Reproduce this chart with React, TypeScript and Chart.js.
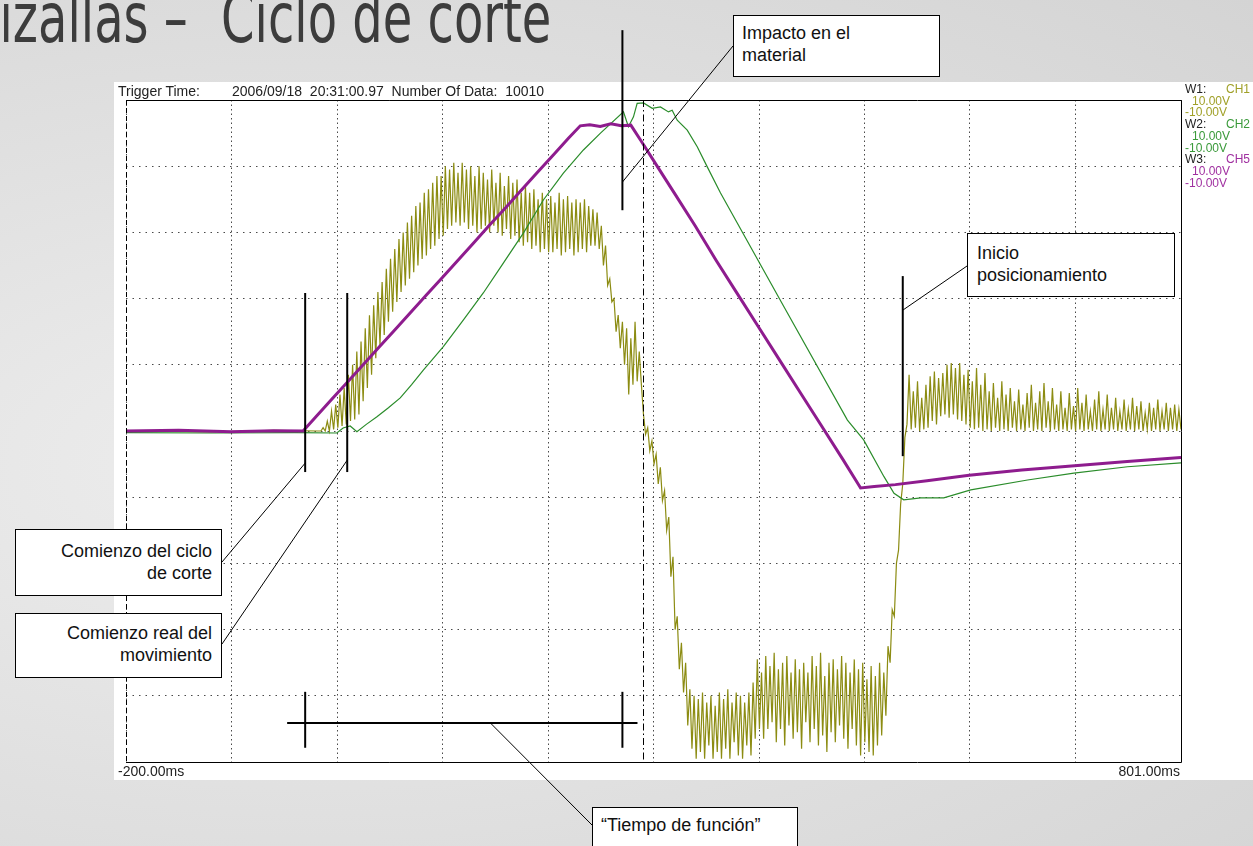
import React, { useEffect, useRef } from "react";
import { Chart, registerables } from "chart.js";

Chart.register(...registerables);

// ---------- axes ----------
const timeMin = -200;
const timeMax = 801;
const voltMin = -10;
const voltMax = 10;
const gridTimes = [-200, -99.9, 0.2, 100.3, 200.4, 300.5, 400.6, 500.7, 600.8, 700.9, 801];
const gridVolts = [-10, -8, -6, -4, -2, 0, 2, 4, 6, 8, 10];
const timeStartLabel = "-200.00ms";
const timeEndLabel = "801.00ms";

// ---------- CH5 (purple) ----------
const ch5Times = [-200, -150, -100, -60, -32, -20, -5, 10, 25, 40, 55, 70, 85, 100, 115, 130, 145, 160, 175, 190, 205, 220, 231, 240, 250, 260, 270, 279, 290, 305, 320, 340, 360, 380, 400, 420, 440, 460, 480, 497, 510, 530, 560, 600, 650, 700, 750, 801];
const ch5Volts = [0.0, 0.02, -0.02, 0.01, 0.0, 0.42, 0.95, 1.47, 2.0, 2.53, 3.05, 3.58, 4.11, 4.63, 5.16, 5.69, 6.22, 6.74, 7.27, 7.8, 8.32, 8.85, 9.22, 9.25, 9.2, 9.28, 9.22, 9.24, 8.7, 7.95, 7.2, 6.2, 5.15, 4.15, 3.15, 2.15, 1.15, 0.15, -0.85, -1.72, -1.68, -1.62, -1.5, -1.34, -1.18, -1.05, -0.92, -0.8];

// ---------- CH2 (green) ----------
const ch2Times = [-200, -120, -40, 0, 6, 12.7, 19.1, 28, 38.1, 49, 60.2, 71, 82.1, 101.1, 120, 139, 158, 177, 196, 215, 234, 250.2, 272, 276.7, 281.5, 285, 291, 299.3, 307.1, 314.7, 318.2, 323, 332.5, 342, 351.5, 364.1, 424, 484.5, 499.9, 519.2, 528.7, 537.9, 554.1, 575.9, 601.5, 655.4, 699.3, 750.3, 801];
const ch2Volts = [-0.05, -0.06, -0.05, -0.06, 0.09, 0.15, -0.02, 0.2, 0.43, 0.7, 1.0, 1.4, 1.84, 2.55, 3.35, 4.17, 5.07, 5.98, 6.98, 7.79, 8.49, 9.0, 9.64, 9.19, 9.49, 9.9, 9.91, 9.75, 9.79, 9.64, 9.69, 9.39, 9.09, 8.59, 7.98, 7.19, 3.77, 0.33, -0.27, -1.38, -1.88, -2.08, -2.02, -2.02, -1.78, -1.48, -1.27, -1.08, -0.96];

// ---------- CH1 (olive) ----------
const ch1FlatTimes = [-200, -120, -60, -18];
const ch1FlatVolts = [0.0, -0.03, 0.02, 0.0];
const ch1SampleStep = 2; // ms between samples
const ch1RiseStart = -15;
const ch1RiseVolts = [
  0.0, 0.1, 0.0, 0.3, 0.0, 0.6, 0.05, 0.8, 0.1, 1.1,
  0.15, 1.3, 0.2, 1.7, 0.3, 2.0, 0.35, 2.4, 0.5, 2.7,
  0.9, 3.1, 1.3, 3.5, 1.7, 3.8, 2.2, 4.2, 2.6, 4.5,
  2.9, 4.9, 3.3, 5.2, 3.6, 5.5, 3.9, 5.8, 4.2, 6.0,
  4.4, 6.3, 4.6, 6.5, 4.8, 6.8, 5.0, 6.9, 5.2, 7.2,
  5.3, 7.3, 5.5, 7.5, 5.6, 7.7, 5.8, 7.7, 5.9, 8.0,
  6.1, 7.9, 6.2, 8.1, 6.3, 7.8, 6.2, 8.1, 6.3, 7.9,
  6.1, 8.0, 6.2, 7.7, 6.0, 8.0, 6.1, 7.8, 6.2, 7.6,
  6.0, 7.9, 6.2, 7.5, 6.0, 7.8, 5.9, 7.4, 6.1, 7.7,
  5.8, 7.5, 5.9, 7.6, 5.7, 7.2, 5.6, 7.4, 5.7, 7.2,
  5.5, 7.3, 5.6, 7.0, 5.4, 7.2, 5.5, 7.0, 5.4, 7.1,
  5.4, 6.9, 5.5, 7.2, 5.3, 7.0, 5.4, 7.1, 5.5, 6.9,
  5.3, 7.0, 5.4, 6.9, 5.5, 7.0, 5.4, 6.8, 5.6, 6.7,
  5.6, 6.6, 5.5, 6.2, 5.0, 5.6, 4.4, 4.6, 3.9, 4.0,
  3.0, 3.5, 2.5, 3.3, 2.0, 3.1, 1.1, 2.8, 1.4, 3.3,
  1.5, 2.4, 1.4, 0.5
];
const ch1TroughStart = 293;
const ch1TroughVolts = [
  -0.1, 0.1, -0.6, -0.3, -1.0, -0.7, -1.6, -1.1, -2.1, -1.8,
  -3.0, -2.6, -4.4, -3.8, -6.0, -5.6, -7.2, -6.4, -7.9, -7.0,
  -8.9, -7.8, -9.6, -8.0, -9.9, -8.1, -9.7, -7.9, -9.9, -8.2,
  -9.5, -8.0, -9.9, -8.3, -9.7, -7.9, -9.9, -8.1, -9.6, -7.8,
  -9.9, -8.2, -9.4, -7.9, -9.8, -8.0, -9.9, -8.2, -9.5, -7.9,
  -9.8, -7.6, -9.3, -6.9, -9.0, -7.3, -9.3, -6.8, -9.0, -7.1,
  -8.8, -6.7, -9.4, -7.2, -9.0, -7.0, -9.5, -6.8, -8.9, -7.3,
  -9.3, -6.9, -9.1, -7.2, -9.6, -7.0, -8.8, -7.3, -9.4, -6.8,
  -9.0, -7.1, -9.5, -6.7, -9.2, -7.4, -9.7, -7.0, -9.1, -6.9,
  -9.4, -7.2, -8.9, -6.8, -9.3, -7.0, -9.6, -7.3, -9.0, -6.9,
  -9.5, -7.2, -9.8, -7.0, -9.4, -7.5, -9.7, -7.1, -9.8, -7.4,
  -9.5, -7.0, -9.2, -7.3, -8.6, -6.5, -7.0, -5.4, -5.6, -4.0,
  -3.6, -2.2, -1.6, -0.2
];
const ch1TailStart = 541;
const ch1TailVolts = [
  0.2, 1.7, 0.05, 1.2, 0.1, 1.5, 0.0, 1.0, 0.05, 1.4,
  0.1, 1.65, 0.3, 1.8, 0.2, 1.6, 0.45, 1.75, 0.5, 2.0,
  0.4, 2.05, 0.5, 1.9, 0.35, 2.05, 0.3, 1.7, 0.2, 1.85,
  0.1, 1.5, 0.05, 1.9, 0.1, 1.4, 0.0, 1.75, 0.05, 1.2,
  0.0, 1.45, 0.1, 1.0, 0.0, 1.5, 0.05, 1.1, 0.0, 1.3,
  0.1, 0.9, 0.0, 1.25, 0.05, 0.8, 0.0, 1.15, 0.1, 1.4,
  0.0, 0.85, 0.05, 1.2, 0.0, 1.45, 0.1, 0.9, 0.0, 1.3,
  0.05, 0.8, 0.0, 1.2, 0.05, 0.7, 0.0, 1.15, 0.05, 0.75,
  0.0, 1.3, 0.05, 0.85, 0.0, 1.1, 0.05, 0.6, 0.0, 0.95,
  0.05, 1.2, 0.0, 0.65, 0.05, 1.1, 0.0, 0.7, 0.05, 1.0,
  0.0, 0.6, 0.05, 0.95, 0.0, 0.65, 0.05, 1.0, 0.0, 0.75,
  0.05, 0.9, 0.0, 0.55, 0.05, 0.85, 0.0, 0.7, 0.05, 0.95,
  0.0, 0.6, 0.05, 0.85, 0.0, 0.7, 0.05, 0.8, 0.0, 0.65,
  0.05
];

// ---------- annotation anchors (time ms, volts) ----------
const markCycleStart = -30;
const markRealStart = 9.9;
const markImpact = 271;
const markPositioning = 537;
const cursorTime = 291;

// ---------- colors ----------
const colCH1 = "#8c8c12";
const colCH2 = "#2a8c2a";
const colCH5 = "#8e1c8e";

function pairs(times: number[], volts: number[]) {
  return times.map((t, i) => ({ x: t, y: volts[i] }));
}
function sampled(start: number, volts: number[]) {
  return volts.map((v, i) => ({ x: start + i * ch1SampleStep, y: v }));
}

const annotPlugin = {
  id: "scopeAnnotations",
  afterDraw(chart: any) {
    const { ctx, chartArea: a, scales } = chart;
    const x = scales.x;
    const y = scales.y;
    const px = (t: number) => x.getPixelForValue(t);
    const py = (v: number) => y.getPixelForValue(v);
    ctx.save();
    // frame
    ctx.strokeStyle = "#000";
    ctx.lineWidth = 1;
    ctx.setLineDash([]);
    ctx.beginPath();
    ctx.moveTo(a.left, a.top + 0.5);
    ctx.lineTo(a.right + 0.5, a.top + 0.5);
    ctx.lineTo(a.right + 0.5, a.bottom + 0.5);
    ctx.lineTo(a.left, a.bottom + 0.5);
    ctx.stroke();
    ctx.setLineDash([5, 3]);
    ctx.beginPath();
    ctx.moveTo(a.left + 0.5, a.top);
    ctx.lineTo(a.left + 0.5, a.bottom);
    ctx.stroke();
    // cursor dash-dot
    ctx.setLineDash([7, 3, 1.5, 3]);
    ctx.beginPath();
    ctx.moveTo(Math.round(px(cursorTime)) + 0.5, a.top);
    ctx.lineTo(Math.round(px(cursorTime)) + 0.5, a.bottom);
    ctx.stroke();
    ctx.setLineDash([]);

    // markers (2px)
    ctx.lineWidth = 2;
    const vline = (t: number, v1: number, v2: number) => {
      ctx.beginPath();
      ctx.moveTo(px(t), py(v1));
      ctx.lineTo(px(t), py(v2));
      ctx.stroke();
    };
    vline(markCycleStart, 4.17, -1.24);
    vline(markRealStart, 4.17, -1.24);
    vline(markImpact, 12.11, 6.67);
    vline(markPositioning, 4.68, -0.76);
    // function time bar
    ctx.beginPath();
    ctx.moveTo(px(-47.1), py(-8.82));
    ctx.lineTo(px(285.3), py(-8.82));
    ctx.stroke();
    vline(markCycleStart, -7.88, -9.57);
    vline(markImpact, -7.88, -9.57);

    // leaders (1px)
    ctx.lineWidth = 1;
    const seg = (x1: number, y1: number, x2: number, y2: number) => {
      ctx.beginPath();
      ctx.moveTo(x1, y1);
      ctx.lineTo(x2, y2);
      ctx.stroke();
    };
    seg(222, 562, px(markCycleStart), py(-0.97));
    seg(222, 644, px(markRealStart), py(-0.88));
    seg(733, 46, px(markImpact), py(7.52));
    seg(967, 266, px(markPositioning), py(3.65));
    seg(592, 825, px(145.7), py(-8.82));
    ctx.restore();
  },
};

const boxStyle: React.CSSProperties = {
  position: "absolute",
  boxSizing: "border-box",
  border: "1px solid #000",
  background: "#fff",
  fontFamily: "'Liberation Sans', Arial, sans-serif",
  fontSize: 18,
  lineHeight: "22px",
  color: "#111",
  whiteSpace: "nowrap",
};

const smallText: React.CSSProperties = {
  position: "absolute",
  fontFamily: "'Liberation Sans', Arial, sans-serif",
  fontSize: 14,
  lineHeight: "16px",
  color: "#222",
  whiteSpace: "pre",
};

export default function App() {
  const ref = useRef<HTMLCanvasElement>(null);

  useEffect(() => {
    const ch1Data = [
      ...pairs(ch1FlatTimes, ch1FlatVolts),
      ...sampled(ch1RiseStart, ch1RiseVolts),
      ...sampled(ch1TroughStart, ch1TroughVolts),
      ...sampled(ch1TailStart, ch1TailVolts),
    ];
    const chart = new Chart(ref.current as HTMLCanvasElement, {
      type: "line",
      data: {
        datasets: [
          { label: "CH5", data: pairs(ch5Times, ch5Volts), borderColor: colCH5, borderWidth: 3, pointRadius: 0, tension: 0, order: 1 },
          { label: "CH2", data: pairs(ch2Times, ch2Volts), borderColor: colCH2, borderWidth: 1.2, pointRadius: 0, tension: 0, order: 2 },
          { label: "CH1", data: ch1Data, borderColor: colCH1, borderWidth: 1.2, pointRadius: 0, tension: 0, order: 3 },
        ],
      },
      options: {
        animation: false,
        responsive: false,
        devicePixelRatio: 1,
        parsing: false as any,
        layout: { padding: { left: 126, right: 72, top: 100, bottom: 84 } },
        plugins: { legend: { display: false }, tooltip: { enabled: false } },
        scales: {
          x: {
            type: "linear",
            min: timeMin,
            max: timeMax,
            afterBuildTicks: (axis: any) => {
              axis.ticks = gridTimes.map((v) => ({ value: v }));
            },
            ticks: { display: false },
            grid: { color: "#4a4a4a", lineWidth: 1, drawTicks: false },
            border: { display: false, dash: [1.5, 3] },
          },
          y: {
            type: "linear",
            min: voltMin,
            max: voltMax,
            afterBuildTicks: (axis: any) => {
              axis.ticks = gridVolts.map((v) => ({ value: v }));
            },
            ticks: { display: false },
            grid: { color: "#4a4a4a", lineWidth: 1, drawTicks: false },
            border: { display: false, dash: [1.5, 5] },
          },
        },
      } as any,
      plugins: [annotPlugin],
    });
    return () => chart.destroy();
  }, []);

  return (
    <div
      style={{
        position: "absolute",
        left: 0,
        top: 0,
        width: 1253,
        height: 846,
        overflow: "hidden",
        background: "radial-gradient(ellipse at 25% 55%, #eeeeee 0%, #e2e2e2 45%, #d4d4d4 100%)",
      }}
    >
      <div
        style={{
          position: "absolute",
          left: -34,
          top: -17,
          fontFamily: "'DejaVu Sans', Verdana, sans-serif",
          fontSize: 48,
          lineHeight: "48px",
          color: "#3c3c3c",
          whiteSpace: "pre",
          transform: "scaleY(1.45)",
          transformOrigin: "0 0",
        }}
      >
        {"Cizallas – "}
        <span style={{ marginLeft: 18 }}>Ciclo de corte</span>
      </div>
      <div style={{ position: "absolute", left: 114, top: 82, width: 1139, height: 698, background: "#fff" }} />
      <canvas ref={ref} width={1253} height={846} style={{ position: "absolute", left: 0, top: 0, width: 1253, height: 846 }} />

      <div style={{ ...smallText, left: 118, top: 83 }}>Trigger Time:</div>
      <div style={{ ...smallText, left: 232, top: 83 }}>{"2006/09/18  20:31:00.97  Number Of Data:  10010"}</div>
      <div style={{ ...smallText, left: 118, top: 763 }}>{timeStartLabel}</div>
      <div style={{ ...smallText, right: 73, top: 763, textAlign: "right" }}>{timeEndLabel}</div>

      <div
        style={{
          position: "absolute",
          left: 1185,
          top: 84,
          width: 65,
          fontFamily: "'Liberation Sans', Arial, sans-serif",
          fontSize: 12,
          lineHeight: "11.7px",
          whiteSpace: "pre",
        }}
      >
        <div style={{ display: "flex", justifyContent: "space-between" }}>
          <span style={{ color: "#222" }}>W1:</span>
          <span style={{ color: "#a0a028" }}>CH1</span>
        </div>
        <div style={{ color: "#a0a028", paddingLeft: 7 }}>10.00V</div>
        <div style={{ color: "#a0a028" }}>-10.00V</div>
        <div style={{ display: "flex", justifyContent: "space-between" }}>
          <span style={{ color: "#222" }}>W2:</span>
          <span style={{ color: "#3a9a3a" }}>CH2</span>
        </div>
        <div style={{ color: "#3a9a3a", paddingLeft: 7 }}>10.00V</div>
        <div style={{ color: "#3a9a3a" }}>-10.00V</div>
        <div style={{ display: "flex", justifyContent: "space-between" }}>
          <span style={{ color: "#222" }}>W3:</span>
          <span style={{ color: "#a030a0" }}>CH5</span>
        </div>
        <div style={{ color: "#a030a0", paddingLeft: 7 }}>10.00V</div>
        <div style={{ color: "#a030a0" }}>-10.00V</div>
      </div>

      <div style={{ ...boxStyle, left: 733, top: 15, width: 207, height: 62, paddingLeft: 8, paddingTop: 6 }}>
        Impacto en el
        <br />
        material
      </div>
      <div style={{ ...boxStyle, left: 967, top: 233, width: 208, height: 64, paddingLeft: 9, paddingTop: 8 }}>
        Inicio
        <br />
        posicionamiento
      </div>
      <div style={{ ...boxStyle, left: 15, top: 529, width: 207, height: 67, paddingRight: 9, paddingTop: 10, textAlign: "right" }}>
        Comienzo del ciclo
        <br />
        de corte
      </div>
      <div style={{ ...boxStyle, left: 15, top: 613, width: 207, height: 65, paddingRight: 9, paddingTop: 8, textAlign: "right" }}>
        Comienzo real del
        <br />
        movimiento
      </div>
      <div style={{ ...boxStyle, left: 592, top: 807, width: 206, height: 60, paddingLeft: 8, paddingTop: 6 }}>
        “Tiempo de función”
      </div>
    </div>
  );
}
